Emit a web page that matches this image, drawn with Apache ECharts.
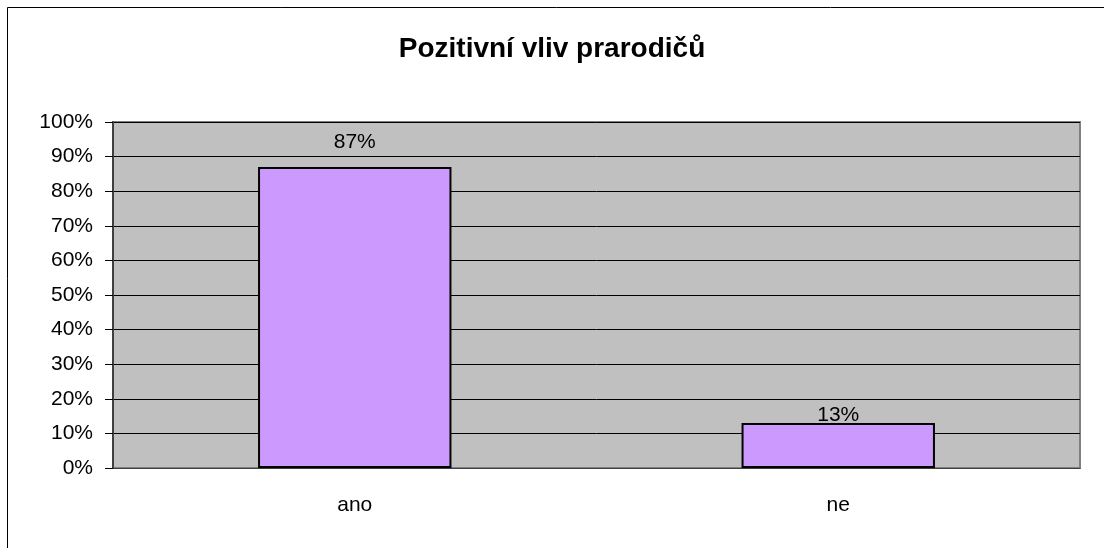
<!DOCTYPE html>
<html>
<head>
<meta charset="utf-8">
<script src="https://cdn.jsdelivr.net/npm/echarts@6/dist/echarts.min.js"></script>
<style>
  html, body { margin: 0; padding: 0; background: #fff; }
  #chart { width: 1104px; height: 548px; }
</style>
</head>
<body>
<div id="chart"></div>
<script>
const categories = ['ano', 'ne'];
const values = [87, 13];
const titleText = 'Pozitivní vliv prarodičů';

const chart = echarts.init(document.getElementById('chart'));
const font = 'Liberation Sans, Arial, sans-serif';
// Excel places the labels at slightly different offsets
const labelDistance = [14, -3];

chart.setOption({
    animation: false,
    title: {
        text: titleText,
        left: 'center',
        top: 30,
        textStyle: { fontFamily: font, fontSize: 28, fontWeight: 'bold', color: '#000' }
    },
    graphic: [{
        type: 'rect',
        shape: { x: 7.5, y: 7.5, width: 1200, height: 600 },
        style: { fill: 'none', stroke: '#000', lineWidth: 1 },
        silent: true
    }],
    grid: {
        left: 113, right: 24, top: 122, bottom: 80,
        show: true,
        backgroundColor: '#C0C0C0',
        borderColor: '#808080',
        borderWidth: 2
    },
    xAxis: {
        type: 'category',
        data: categories,
        axisLine: { lineStyle: { color: '#404040', width: 1 } },
        axisTick: { length: 8, lineStyle: { color: '#000' } },
        axisLabel: { fontFamily: font, fontSize: 21, color: '#000', margin: 27 }
    },
    yAxis: {
        type: 'value',
        min: 0, max: 100, interval: 10,
        axisLine: { show: true, lineStyle: { color: '#404040', width: 2 } },
        axisTick: { show: true, length: 8, lineStyle: { color: '#000' } },
        axisLabel: { fontFamily: font, fontSize: 21, color: '#000', margin: 20, formatter: '{value}%' },
        splitLine: { lineStyle: { color: '#000', width: 1 } }
    },
    series: [{
        type: 'bar',
        data: values.map((v, i) => ({ value: v, label: { distance: labelDistance[i] } })),
        barWidth: '40%',
        itemStyle: { color: '#CC99FF', borderColor: '#000', borderWidth: 2 },
        label: {
            show: true, position: 'top',
            fontFamily: font, fontSize: 21, color: '#000',
            formatter: '{c}%'
        }
    }]
});
</script>
</body>
</html>
